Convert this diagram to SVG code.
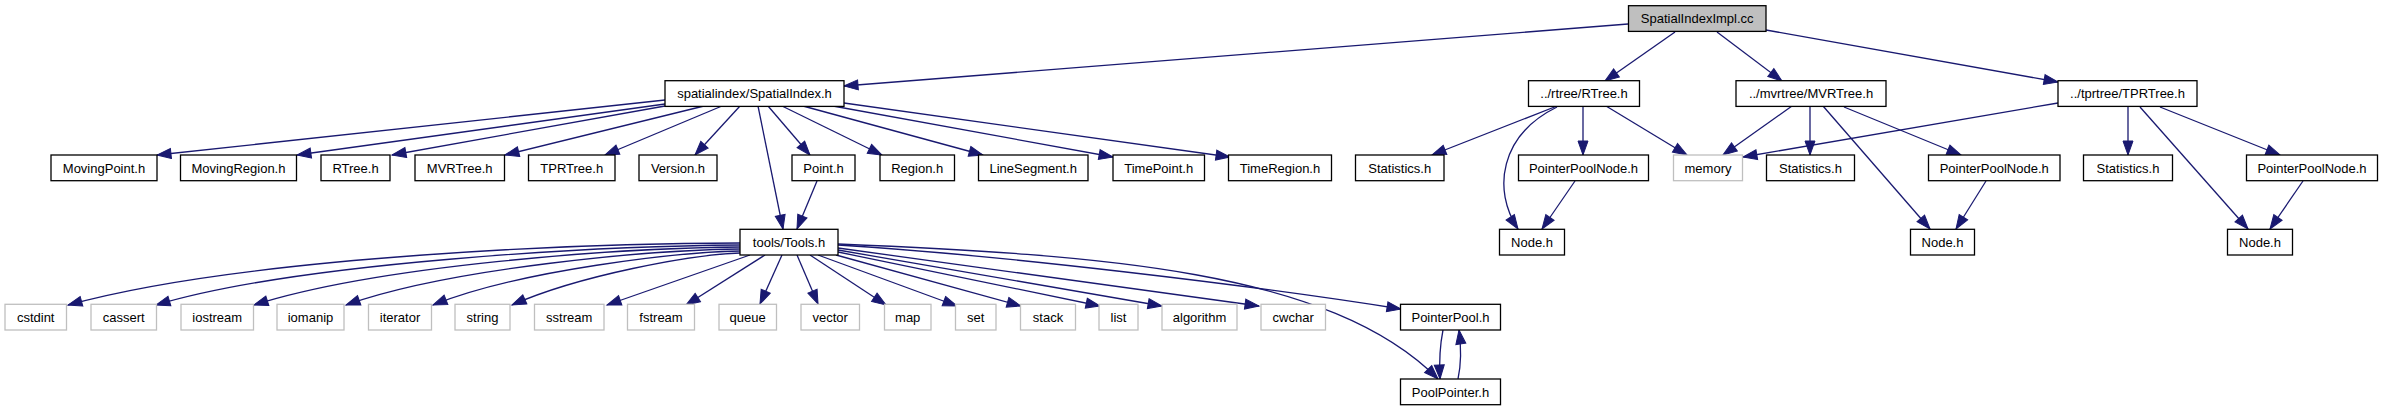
<svg xmlns="http://www.w3.org/2000/svg" width="2383" height="411" viewBox="0 0 2383 411">
<style>
rect{fill:#fff;stroke:#000;stroke-width:1.3}
.g rect{stroke:#bfbfbf}
#n_impl rect{fill:#bfbfbf}
text{font-family:"Liberation Sans",Arial,sans-serif;font-size:13px;text-anchor:middle;fill:#000}
#edges path{fill:none;stroke:#191970;stroke-width:1.3;marker-end:url(#a)}
</style>
<defs>
<marker id="a" markerUnits="userSpaceOnUse" markerWidth="14" markerHeight="10" refX="14" refY="5" orient="auto" overflow="visible">
<path d="M0,0 L14,5 L0,10 Z" fill="#191970" stroke="#191970" stroke-width="1"/>
</marker>
</defs>
<rect x="0" y="0" width="2383" height="411" style="fill:#fff;stroke:none"/>
<g id="edges">
<path d="M1628,24 L844,86"/>
<path d="M1675,32 L1605,81"/>
<path d="M1717,32 L1782,81"/>
<path d="M1766,30 L2058,82"/>
<path d="M665,100 L157,155"/>
<path d="M665,104 L297,155"/>
<path d="M665,106 L392,155"/>
<path d="M704,106 L505,155"/>
<path d="M722,106 L605,155"/>
<path d="M740,106 L695,155"/>
<path d="M758,106 L783,229"/>
<path d="M768,106 L810,155"/>
<path d="M782,106 L882,155"/>
<path d="M803,106 L983,155"/>
<path d="M833,106 L1113,157"/>
<path d="M844,103 L1230,157"/>
<path d="M817,181 L797,229"/>
<path d="M1557,106 L1432,155"/>
<path d="M1583,106 L1583,155"/>
<path d="M1557,107 C1500,135 1492,190 1518,229"/>
<path d="M1606,106 L1687,155"/>
<path d="M1575,181 L1542,229"/>
<path d="M1792,106 L1723,155"/>
<path d="M1810,106 L1810,155"/>
<path d="M1823,106 L1930,229"/>
<path d="M1844,107 L1961,155"/>
<path d="M1986,181 L1956,229"/>
<path d="M2058,103 L1743,157"/>
<path d="M2128,106 L2128,155"/>
<path d="M2140,107 L2248,229"/>
<path d="M2160,107 L2280,155"/>
<path d="M2303,181 L2270,229"/>
<path d="M740,243 C600,243 250,255 68,305"/>
<path d="M740,245 C600,246 300,262 156,305"/>
<path d="M740,247 C620,248 380,265 254,305"/>
<path d="M740,249 C650,250 450,268 346,305"/>
<path d="M740,251 C680,252 520,270 433,305"/>
<path d="M740,253 C690,255 580,275 512,305"/>
<path d="M750,255 L607,305"/>
<path d="M765,255 L686,305"/>
<path d="M782,255 L760,304"/>
<path d="M797,255 L818,304"/>
<path d="M810,255 L886,305"/>
<path d="M818,255 L957,306"/>
<path d="M836,255 L1021,306"/>
<path d="M838,252 L1100,306"/>
<path d="M838,250 L1162,306"/>
<path d="M838,248 L1259,306"/>
<path d="M838,245 C1000,255 1250,285 1401,309"/>
<path d="M838,244 C1100,255 1330,270 1438,379"/>
<path d="M1443,330 C1440,345 1439,360 1440,379"/>
<path d="M1458,379 C1461,365 1461,345 1459,330"/>
</g>
<g id="n_impl"><rect x="1628.5" y="5.7" width="137.5" height="25.7"/><text x="1697.2" y="23.2">SpatialIndexImpl.cc</text></g>
<g id="n_si"><rect x="665" y="80.7" width="179" height="25.7"/><text x="754.5" y="98.2">spatialindex/SpatialIndex.h</text></g>
<g id="n_rtree"><rect x="1528.5" y="80.7" width="111" height="25.7"/><text x="1584" y="98.2">../rtree/RTree.h</text></g>
<g id="n_mvrtree"><rect x="1736" y="80.7" width="150" height="25.7"/><text x="1811" y="98.2">../mvrtree/MVRTree.h</text></g>
<g id="n_tprtree"><rect x="2058" y="80.7" width="139" height="25.7"/><text x="2127.5" y="98.2">../tprtree/TPRTree.h</text></g>
<g id="n_movingpoint"><rect x="51" y="155" width="106" height="25.7"/><text x="104" y="172.5">MovingPoint.h</text></g>
<g id="n_movingregion"><rect x="180.5" y="155" width="116" height="25.7"/><text x="238.5" y="172.5">MovingRegion.h</text></g>
<g id="n_rtreeh"><rect x="321" y="155" width="69" height="25.7"/><text x="355.5" y="172.5">RTree.h</text></g>
<g id="n_mvrtreeh"><rect x="415" y="155" width="89.5" height="25.7"/><text x="459.7" y="172.5">MVRTree.h</text></g>
<g id="n_tprtreeh"><rect x="528.5" y="155" width="86.5" height="25.7"/><text x="571.7" y="172.5">TPRTree.h</text></g>
<g id="n_version"><rect x="639" y="155" width="78" height="25.7"/><text x="678" y="172.5">Version.h</text></g>
<g id="n_point"><rect x="792" y="155" width="63" height="25.7"/><text x="823.5" y="172.5">Point.h</text></g>
<g id="n_region"><rect x="880" y="155" width="74.5" height="25.7"/><text x="917.2" y="172.5">Region.h</text></g>
<g id="n_linesegment"><rect x="978.5" y="155" width="109.5" height="25.7"/><text x="1033.2" y="172.5">LineSegment.h</text></g>
<g id="n_timepoint"><rect x="1113" y="155" width="91.5" height="25.7"/><text x="1158.7" y="172.5">TimePoint.h</text></g>
<g id="n_timeregion"><rect x="1228.5" y="155" width="103" height="25.7"/><text x="1280" y="172.5">TimeRegion.h</text></g>
<g id="n_stat1"><rect x="1355.5" y="155" width="88.5" height="25.7"/><text x="1399.7" y="172.5">Statistics.h</text></g>
<g id="n_ppn1"><rect x="1518.5" y="155" width="130" height="25.7"/><text x="1583.5" y="172.5">PointerPoolNode.h</text></g>
<g id="n_memory" class="g"><rect x="1673.5" y="155" width="69" height="25.7"/><text x="1708" y="172.5">memory</text></g>
<g id="n_stat2"><rect x="1766.5" y="155" width="88" height="25.7"/><text x="1810.5" y="172.5">Statistics.h</text></g>
<g id="n_ppn2"><rect x="1928.5" y="155" width="131.5" height="25.7"/><text x="1994.2" y="172.5">PointerPoolNode.h</text></g>
<g id="n_stat3"><rect x="2083.5" y="155" width="89" height="25.7"/><text x="2128" y="172.5">Statistics.h</text></g>
<g id="n_ppn3"><rect x="2246.5" y="155" width="131" height="25.7"/><text x="2312" y="172.5">PointerPoolNode.h</text></g>
<g id="n_tools"><rect x="740" y="229.3" width="98" height="25.7"/><text x="789" y="246.8">tools/Tools.h</text></g>
<g id="n_node1"><rect x="1499.5" y="229.3" width="65" height="25.7"/><text x="1532" y="246.8">Node.h</text></g>
<g id="n_node2"><rect x="1910.5" y="229.3" width="64" height="25.7"/><text x="1942.5" y="246.8">Node.h</text></g>
<g id="n_node3"><rect x="2227.5" y="229.3" width="65" height="25.7"/><text x="2260" y="246.8">Node.h</text></g>
<g id="n_cstdint" class="g"><rect x="5" y="304.3" width="61.5" height="25.7"/><text x="35.7" y="321.8">cstdint</text></g>
<g id="n_cassert" class="g"><rect x="91" y="304.3" width="65.5" height="25.7"/><text x="123.7" y="321.8">cassert</text></g>
<g id="n_iostream" class="g"><rect x="181" y="304.3" width="72.5" height="25.7"/><text x="217.2" y="321.8">iostream</text></g>
<g id="n_iomanip" class="g"><rect x="277" y="304.3" width="67" height="25.7"/><text x="310.5" y="321.8">iomanip</text></g>
<g id="n_iterator" class="g"><rect x="368.5" y="304.3" width="63" height="25.7"/><text x="400" y="321.8">iterator</text></g>
<g id="n_string" class="g"><rect x="455" y="304.3" width="55" height="25.7"/><text x="482.5" y="321.8">string</text></g>
<g id="n_sstream" class="g"><rect x="534.5" y="304.3" width="69.5" height="25.7"/><text x="569.2" y="321.8">sstream</text></g>
<g id="n_fstream" class="g"><rect x="627.5" y="304.3" width="67" height="25.7"/><text x="661" y="321.8">fstream</text></g>
<g id="n_queue" class="g"><rect x="719" y="304.3" width="57.5" height="25.7"/><text x="747.7" y="321.8">queue</text></g>
<g id="n_vector" class="g"><rect x="801" y="304.3" width="58.5" height="25.7"/><text x="830.2" y="321.8">vector</text></g>
<g id="n_map" class="g"><rect x="884.5" y="304.3" width="46.5" height="25.7"/><text x="907.7" y="321.8">map</text></g>
<g id="n_set" class="g"><rect x="955.5" y="304.3" width="40.5" height="25.7"/><text x="975.7" y="321.8">set</text></g>
<g id="n_stack" class="g"><rect x="1020.5" y="304.3" width="55" height="25.7"/><text x="1048" y="321.8">stack</text></g>
<g id="n_list" class="g"><rect x="1099" y="304.3" width="39" height="25.7"/><text x="1118.5" y="321.8">list</text></g>
<g id="n_algorithm" class="g"><rect x="1162" y="304.3" width="75" height="25.7"/><text x="1199.5" y="321.8">algorithm</text></g>
<g id="n_cwchar" class="g"><rect x="1261" y="304.3" width="64.5" height="25.7"/><text x="1293.2" y="321.8">cwchar</text></g>
<g id="n_pointerpool"><rect x="1400.5" y="304.3" width="100" height="25.7"/><text x="1450.5" y="321.8">PointerPool.h</text></g>
<g id="n_poolpointer"><rect x="1400.5" y="379" width="100" height="25.7"/><text x="1450.5" y="396.5">PoolPointer.h</text></g>
</svg>
